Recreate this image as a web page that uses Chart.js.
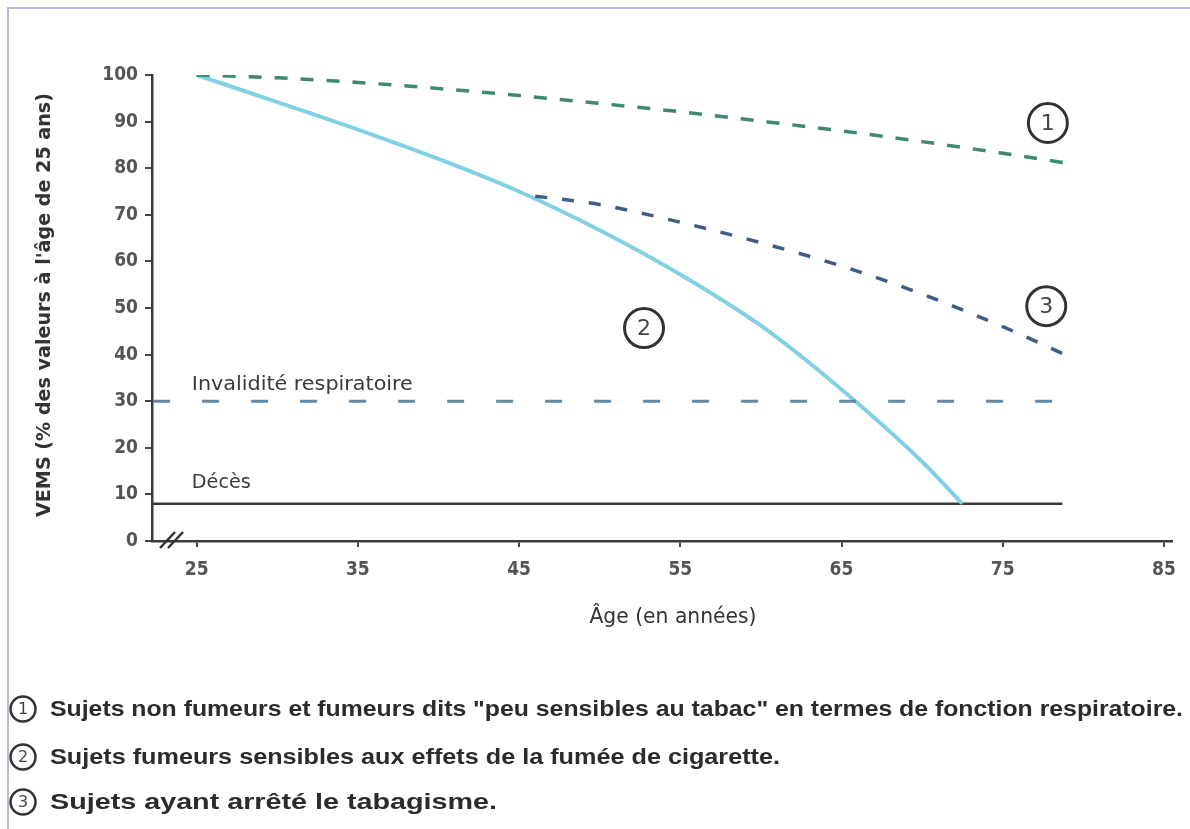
<!DOCTYPE html>
<html lang="fr">
<head>
<meta charset="utf-8">
<title>VEMS selon l'âge</title>
<script src="https://cdn.jsdelivr.net/npm/chart.js@4.4.1/dist/chart.umd.min.js"></script>
<style>
    html, body { margin: 0; padding: 0; background: #fff; }
    #frame {
        position: absolute; left: 7px; top: 7px; width: 1183px; height: 822px;
        border-left: 2px solid #b7b9e6; border-top: 2px solid #b7b9e6;
    }
    #chart { position: absolute; left: 0; top: 0; }
</style>
</head>
<body>
<div id="frame"></div>
<canvas id="chart" width="1190" height="829"></canvas>
<script>
// -------------------- Data --------------------
const xTicks = [25, 35, 45, 55, 65, 75, 85];

// (1) non-fumeurs / fumeurs peu sensibles
const ages1 = [25, 30, 35, 40, 45, 50, 55, 60, 65, 70, 75, 79.5];
const vems1 = [100, 99.4, 98.4, 97.1, 95.6, 93.9, 92.1, 90.1, 88.0, 85.7, 83.2, 80.8];

// (2) fumeurs sensibles
const ages2 = [25, 30, 35, 40, 45, 50, 55, 60, 65, 70, 72.5];
const vems2 = [100, 94.2, 88.3, 82, 75, 66.7, 57.2, 46.2, 32.5, 17, 8];

// (3) arrêt du tabac
const ages3 = [46, 50, 55, 60, 65, 70, 75, 79.5];
const vems3 = [74, 72.2, 68.4, 64, 59, 53, 46, 39];

// seuils
const invalidAges = [22.3, 78.8];
const invalidLevel = 30;
const decesAges = [22.3, 78.7];
const decesLevel = 8;

// -------------------- Texts --------------------
const yTitle = "VEMS (% des valeurs à l'âge de 25 ans)";
const xTitle = "Âge (en années)";
const legendLines = [
    'Sujets non fumeurs et fumeurs dits "peu sensibles au tabac" en termes de fonction respiratoire.',
    "Sujets fumeurs sensibles aux effets de la fumée de cigarette.",
    "Sujets ayant arrêté le tabagisme."
];

const toPoints = (xs, ys) => xs.map((x, i) => ({ x, y: ys[i] }));
const flat = (xs, level) => xs.map(x => ({ x, y: level }));

const tickFont = { family: '"DejaVu Sans Condensed", sans-serif', size: 19, weight: 'bold' };

// text squeezed / stretched to a given width
function fitText(ctx, text, x, y, width, align) {
    const w = ctx.measureText(text).width;
    ctx.save();
    ctx.translate(x, y);
    ctx.scale(width / w, 1);
    ctx.textAlign = 'left';
    ctx.fillText(text, align === 'center' ? -w / 2 : 0, 0);
    ctx.restore();
}

function circledNumber(ctx, n, cx, cy, r, fontSize, lw) {
    ctx.save();
    ctx.beginPath();
    ctx.arc(cx, cy, r, 0, Math.PI * 2);
    ctx.lineWidth = lw;
    ctx.strokeStyle = '#333';
    ctx.stroke();
    ctx.fillStyle = '#444';
    ctx.font = fontSize + 'px "DejaVu Sans", sans-serif';
    ctx.textAlign = 'center';
    ctx.textBaseline = 'middle';
    ctx.fillText(String(n), cx, cy + 1);
    ctx.restore();
}

// -------------------- Decorations --------------------
const decorations = {
    id: 'decorations',
    afterDraw(chart) {
        const ctx = chart.ctx;
        const x = chart.scales.x, y = chart.scales.y;
        const area = chart.chartArea;

        // axis break "//"
        ctx.save();
        ctx.strokeStyle = '#333';
        ctx.lineWidth = 2.5;
        [0, 8].forEach(dx => {
            ctx.beginPath();
            ctx.moveTo(160 + dx, area.bottom + 7);
            ctx.lineTo(175 + dx, area.bottom - 9);
            ctx.stroke();
        });
        ctx.restore();

        // labels on the plot
        ctx.save();
        ctx.fillStyle = '#3a3a3a';
        ctx.textBaseline = 'middle';
        ctx.font = '20px "DejaVu Sans Condensed", sans-serif';
        fitText(ctx, "Invalidité respiratoire", x.getPixelForValue(24.7), y.getPixelForValue(33.6), 221);
        fitText(ctx, "Décès", x.getPixelForValue(24.7), y.getPixelForValue(12.4), 59);
        ctx.restore();

        circledNumber(ctx, 1, x.getPixelForValue(77.8), y.getPixelForValue(89.7), 19.5, 22, 3);
        circledNumber(ctx, 2, x.getPixelForValue(52.75), y.getPixelForValue(45.7), 19.5, 22, 3);
        circledNumber(ctx, 3, x.getPixelForValue(77.7), y.getPixelForValue(50.4), 19.5, 22, 3);

        // axis titles
        ctx.save();
        ctx.fillStyle = '#333';
        ctx.textBaseline = 'middle';
        ctx.font = 'bold 19px "DejaVu Sans Condensed", sans-serif';
        ctx.save();
        ctx.translate(45, 305);
        ctx.rotate(-Math.PI / 2);
        fitText(ctx, yTitle, 0, 0, 424, 'center');
        ctx.restore();
        ctx.font = '22px "DejaVu Sans Condensed", sans-serif';
        fitText(ctx, xTitle, 673, 617, 167, 'center');
        ctx.restore();

        // legend under the chart
        const rows = [709, 757, 802];
        const widths = [1133, 730, 447];
        legendLines.forEach((line, i) => {
            circledNumber(ctx, i + 1, 23, rows[i], 12.5, 16, 2.5);
            ctx.save();
            ctx.fillStyle = '#2b2b2b';
            ctx.textBaseline = 'middle';
            ctx.font = 'bold 22px "Liberation Sans", Arial, sans-serif';
            fitText(ctx, line, 50, rows[i] + 1, widths[i]);
            ctx.restore();
        });
    }
};

// -------------------- Chart --------------------
const ctx = document.getElementById('chart').getContext('2d');
new Chart(ctx, {
    type: 'line',
    data: {
        datasets: [
            { data: toPoints(ages1, vems1), borderColor: '#3f8a6a', borderWidth: 3.5, borderDash: [13, 13], cubicInterpolationMode: 'monotone' },
            { data: toPoints(ages3, vems3), borderColor: '#3d5d84', borderWidth: 3.5, borderDash: [12, 15], cubicInterpolationMode: 'monotone' },
            { data: flat(invalidAges, invalidLevel), borderColor: '#6189a8', borderWidth: 3, borderDash: [17, 32] },
            { data: toPoints(ages2, vems2), borderColor: '#82d0e4', borderWidth: 4, cubicInterpolationMode: 'monotone' },
            { data: flat(decesAges, decesLevel), borderColor: '#3a3a3a', borderWidth: 2.5 }
        ]
    },
    options: {
        responsive: false,
        animation: false,
        events: [],
        layout: { padding: { top: 75, right: 18, bottom: 0, left: 0 } },
        elements: { point: { radius: 0 }, line: { fill: false } },
        plugins: { legend: { display: false }, tooltip: { enabled: false } },
        scales: {
            x: {
                type: 'linear',
                min: 22.23,
                max: 85.5,
                afterFit: s => { s.height = 288; },
                afterBuildTicks: s => { s.ticks = xTicks.map(v => ({ value: v })); },
                grid: { drawOnChartArea: false, drawTicks: true, tickLength: 6, color: '#444', lineWidth: 2 },
                border: { display: true, color: '#3a3a3a', width: 2.5 },
                ticks: { font: tickFont, color: '#555', padding: 12, maxRotation: 0, autoSkip: false }
            },
            y: {
                min: 0,
                max: 100,
                afterFit: s => { s.width = 152; },
                grid: { drawOnChartArea: false, drawTicks: true, tickLength: 7, color: '#444', lineWidth: 2 },
                border: { display: true, color: '#3a3a3a', width: 2.5 },
                ticks: { stepSize: 10, font: tickFont, color: '#555', padding: 7 }
            }
        }
    },
    plugins: [decorations]
});
</script>
</body>
</html>
